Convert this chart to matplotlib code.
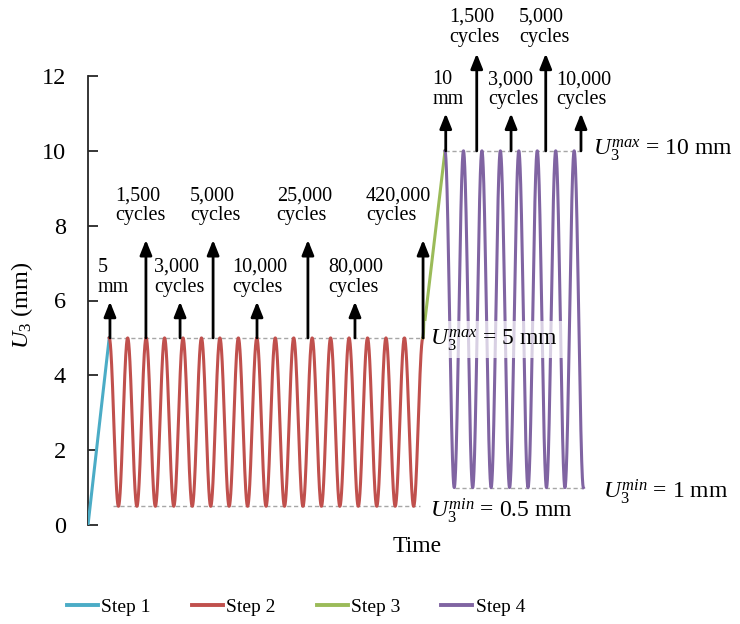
import numpy as np
import matplotlib
matplotlib.use("Agg")
import matplotlib.pyplot as plt
from matplotlib.lines import Line2D

plt.rcParams['font.family'] = ['Liberation Serif', 'DejaVu Serif']
plt.rcParams['mathtext.fontset'] = 'custom'
plt.rcParams['mathtext.rm'] = 'Liberation Serif'
plt.rcParams['mathtext.it'] = 'Liberation Serif:italic'
plt.rcParams['mathtext.bf'] = 'Liberation Serif:bold'

# ---- data (time in loading-cycle units, displacement in mm) ----
step_names = ['Step 1', 'Step 2', 'Step 3', 'Step 4']
step_colors = ['#4BACC6', '#C0504D', '#9BBB59', '#8064A2']

step1_t = [0.0, 1.15]
step1_u = [0.0, 5.0]

step2_start = 1.15
step2_cycles = 17
step2_umax = 5.0
step2_umin = 0.5

step3_t = [18.15, 19.35]
step3_u = [5.0, 10.0]

step4_start = 19.35
step4_cycles = 7.5
step4_umax = 10.0
step4_umin = 1.0

# annotations: arrow x, arrow top, label text, label x, label y
step2_arrow_x = [1.19, 3.14, 4.99, 6.78, 9.16, 11.92, 14.47, 18.16]
step2_arrow_top = [5.97, 7.62, 5.97, 7.62, 5.97, 7.62, 5.97, 7.62]
step2_labels = ['5\nmm', '1,500\ncycles', '3,000\ncycles', '5,000\ncycles',
                '10,000\ncycles', '25,000\ncycles', '80,000\ncycles', '420,000\ncycles']
step2_label_x = [0.54, 1.46, 3.58, 5.53, 7.84, 10.23, 13.02, 15.07]
step2_label_y = [6.62, 8.54, 6.62, 8.54, 6.62, 8.54, 6.62, 8.54]

step4_arrow_x = [19.39, 21.07, 22.93, 24.81, 26.72]
step4_arrow_top = [11.0, 12.6, 11.0, 12.6, 11.0]
step4_labels = ['10\nmm', '1,500\ncycles', '3,000\ncycles', '5,000\ncycles', '10,000\ncycles']
step4_label_x = [18.66, 19.58, 21.70, 23.36, 25.40]
step4_label_y = [11.64, 13.30, 11.64, 13.30, 11.64]

y_ticks = [0, 2, 4, 6, 8, 10, 12]

# ---- figure ----
fig = plt.figure(figsize=(7.4, 6.24), dpi=100)
ax = fig.add_axes([88/740, 99/624, (715-88)/740, 449/624])
ax.set_xlim(0, (715-88)/18.45)
ax.set_ylim(0, 12)

# step 1
ax.plot(step1_t, step1_u, color=step_colors[0], lw=2.2, zorder=3)
# step 2 (cyclic, starting at peak)
t2 = np.linspace(0, step2_cycles, 3000)
mid2, amp2 = (step2_umax + step2_umin)/2, (step2_umax - step2_umin)/2
ax.plot(step2_start + t2, mid2 + amp2*np.cos(2*np.pi*t2), color=step_colors[1], lw=2.2, zorder=3)
# step 3
ax.plot(step3_t, step3_u, color=step_colors[2], lw=2.2, zorder=3)
# step 4
t4 = np.linspace(0, step4_cycles, 1500)
mid4, amp4 = (step4_umax + step4_umin)/2, (step4_umax - step4_umin)/2
ax.plot(step4_start + t4, mid4 + amp4*np.cos(2*np.pi*t4), color=step_colors[3], lw=2.2, zorder=3)

# dashed reference lines
dkw = dict(color='#A6A6A6', lw=1.0, ls=(0, (3, 2)), zorder=2)
ax.plot([1.19, 18.10], [step2_umax]*2, **dkw)
ax.plot([1.36, 18.00], [step2_umin]*2, **dkw)
ax.plot([19.35, 26.78], [step4_umax]*2, **dkw)
ax.plot([19.90, 26.83], [step4_umin]*2, **dkw)

# arrows and labels
def arrows(xs, tops, base, labels, lx, ly):
    for x, top in zip(xs, tops):
        ax.annotate('', xy=(x, top), xytext=(x, base),
                    arrowprops=dict(arrowstyle='-|>,head_length=0.9,head_width=0.36',
                                    color='black', lw=2.0, shrinkA=0, shrinkB=0),
                    zorder=5, annotation_clip=False)
    for s, x, y in zip(labels, lx, ly):
        ax.text(x, y, s, ha='left', va='center', fontsize=14.5, linespacing=1.05,
                zorder=6, clip_on=False)

arrows(step2_arrow_x, step2_arrow_top, step2_umax, step2_labels, step2_label_x, step2_label_y)
arrows(step4_arrow_x, step4_arrow_top, step4_umax, step4_labels, step4_label_x, step4_label_y)

U = r'$\mathit{U}_{\mathit{3}}^{\mathit{%s}}$'
ax.text(18.56, 4.95, (U % 'max') + ' = 5 mm', fontsize=17, ha='left', va='center', zorder=7,
        bbox=dict(facecolor='white', edgecolor='none', alpha=0.7, pad=4))
ax.text(27.37, 10.03, (U % 'max') + ' = 10 mm', fontsize=17, ha='left', va='center', zorder=7, clip_on=False)
ax.text(18.56, 0.40, (U % 'min') + ' = 0.5 mm', fontsize=17, ha='left', va='center', zorder=7)
ax.text(27.90, 0.90, (U % 'min') + ' = 1 mm', fontsize=17, ha='left', va='center', zorder=7, clip_on=False)

# axes styling
for s in ['top', 'right', 'bottom']:
    ax.spines[s].set_visible(False)
ax.spines['left'].set_color('#262626')
ax.spines['left'].set_linewidth(1.3)
ax.set_xticks([])
ax.set_yticks(y_ticks)
ax.tick_params(axis='y', direction='in', length=7, width=1.3, color='#262626',
               labelsize=17.5, pad=16)
ax.set_ylabel(r'$\mathit{U}_{\mathit{3}}$ (mm)', fontsize=17.5)
ax.yaxis.set_label_coords(-0.085, 0.49)
fig.text(417/740, 1-546/624, 'Time', ha='center', va='center', fontsize=17)

handles = [Line2D([], [], color=c, lw=2.8) for c in step_colors]
fig.legend(handles, step_names, loc='center', bbox_to_anchor=(296/740, 1-607/624),
           ncol=4, frameon=False, fontsize=14, handlelength=1.6, handletextpad=0.18,
           columnspacing=2.1)

fig.savefig('out.png', dpi=100)
